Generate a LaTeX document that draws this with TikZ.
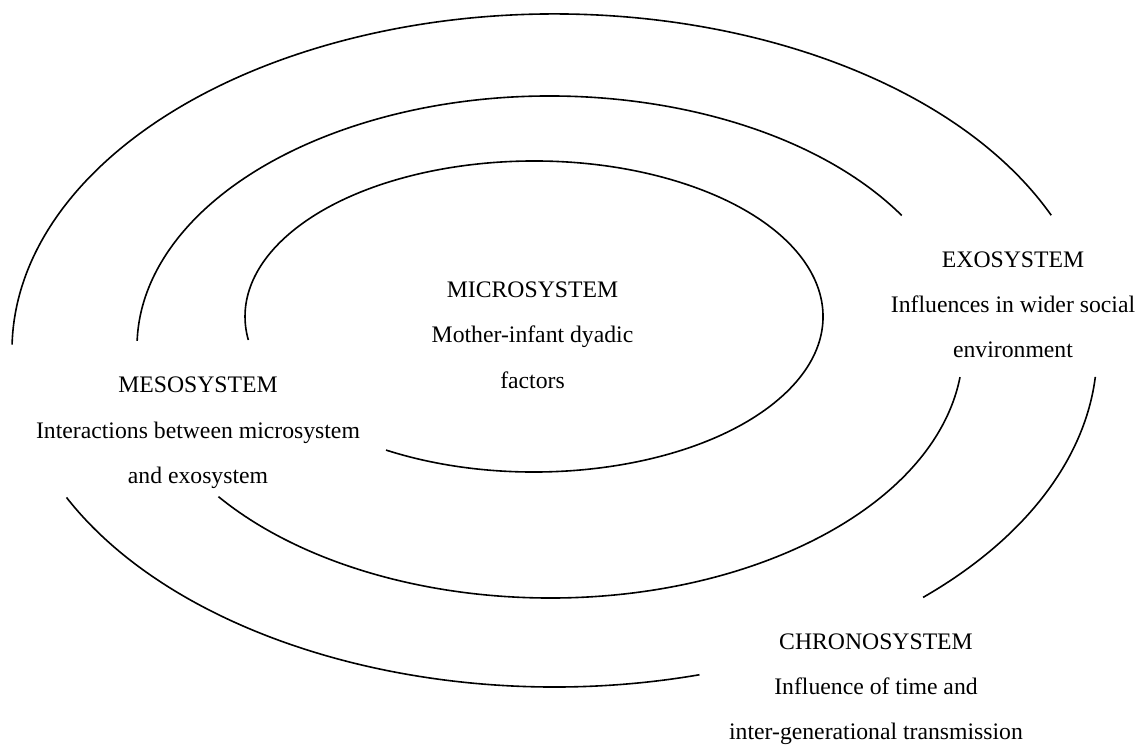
\documentclass[tikz,border=0pt]{standalone}
\usepackage{fontspec}
\setmainfont{Liberation Serif}
\usetikzlibrary{calc}
\begin{document}
\begin{tikzpicture}[x=1pt,y=1pt,
  ring/.style={line width=1.6pt, black},
  lbl/.style={anchor=base, inner sep=0pt, font=\fontsize{23.7}{28}\selectfont}]
\useasboundingbox (0,0) rectangle (1139,745);
% centres (y up)
\coordinate (co) at (554.5,394.5);
\coordinate (cm) at (550,398);
\coordinate (ci) at (534,428.5);
% outer ring (chronosystem boundary)
\draw[ring] ($(co)+(23.7:542.5 and 336.5)$) arc[start angle=23.7, end angle=179, x radius=542.5, y radius=336.5];
\draw[ring] ($(co)+(-4.5:542.5 and 336.5)$) arc[start angle=-4.5, end angle=-47.2, x radius=542.5, y radius=336.5];
\draw[ring] ($(co)+(205.9:542.5 and 336.5)$) arc[start angle=205.9, end angle=285.5, x radius=542.5, y radius=336.5];
% middle ring
\draw[ring] ($(cm)+(31.6:413 and 251)$) arc[start angle=31.6, end angle=178.6, x radius=413, y radius=251];
\draw[ring] ($(cm)+(-6.9:413 and 251)$) arc[start angle=-6.9, end angle=-143.4, x radius=413, y radius=251];
% inner ring
\draw[ring] ($(ci)+(239.2:289 and 155.5)$) arc[start angle=239.2, end angle=548.7, x radius=289, y radius=155.5];
% labels
\node[lbl] (mic1) at (532.5,447) {MICROSYSTEM};
\node[lbl] (mic2) at (532.5,402) {Mother-infant dyadic};
\node[lbl] (mic3) at (532.5,357) {factors};
\node[lbl] (mes1) at (198,353) {MESOSYSTEM};
\node[lbl] (mes2) at (198,307) {Interactions between microsystem};
\node[lbl] (mes3) at (198,262) {and exosystem};
\node[lbl] (exo1) at (1013,477) {EXOSYSTEM};
\node[lbl] (exo2) at (1013,432) {Influences in wider social};
\node[lbl] (exo3) at (1013,388) {environment};
\node[lbl] (chr1) at (876,96) {CHRONOSYSTEM};
\node[lbl] (chr2) at (876,51) {Influence of time and};
\node[lbl] (chr3) at (876,6) {inter-generational transmission};
\end{tikzpicture}
\end{document}
